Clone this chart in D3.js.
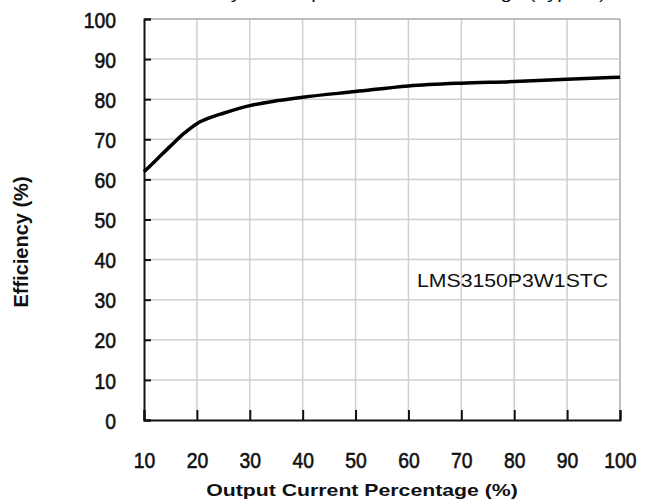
<!DOCTYPE html>
<html><head><meta charset="utf-8">
<script src="https://cdn.jsdelivr.net/npm/d3@7/dist/d3.min.js"></script>
<style>body{margin:0;background:#fff}svg{display:block}</style>
</head><body>
<svg id="c" width="650" height="504"></svg>
<script>
const xValues = [10, 12.5, 15, 17.5, 20, 22.5, 25, 30, 35, 40, 50, 60, 70, 80, 90, 100];
const efficiency = [61.9, 65.1, 68.3, 71.4, 73.9, 75.4, 76.5, 78.4, 79.6, 80.5, 81.9, 83.3, 84.0, 84.4, 85.0, 85.5];
const xTicks = [10, 20, 30, 40, 50, 60, 70, 80, 90, 100];
const yTicks = [0, 10, 20, 30, 40, 50, 60, 70, 80, 90, 100];
const seriesLabel = "LMS3150P3W1STC";
const titleText = "Efficiency vs. Output Current Percentage (Typical)";
const xTitle = "Output Current Percentage (%)";
const yTitle = "Efficiency (%)";

const svg = d3.select("#c");
const L = 144, R = 620, T = 19, B = 420;
const x = d3.scaleLinear().domain([10, 100]).range([L, R]);
const y = d3.scaleLinear().domain([0, 100]).range([B, T]);
const sans = "Liberation Sans, Arial, sans-serif";
const squeeze = 0.86;

// title (cut off at the top edge, as in the reference)
svg.append("text").attr("transform", "translate(380,-1) scale(1.2,1)").attr("text-anchor", "middle")
  .attr("font-family", sans).attr("font-size", 17).attr("fill", "#111")
  .text(titleText);

// grid
const g = svg.append("g");
g.selectAll(".vg").data(xTicks.slice(1)).join("line")
  .attr("x1", d => x(d)).attr("x2", d => x(d)).attr("y1", T).attr("y2", B)
  .attr("stroke", d => d === 100 ? "#a8a8a8" : "#cfcfcf").attr("stroke-width", 1.5);
g.selectAll(".hg").data(yTicks.slice(1)).join("line")
  .attr("x1", L).attr("x2", R).attr("y1", d => y(d)).attr("y2", d => y(d))
  .attr("stroke", d => d === 100 ? "#a8a8a8" : "#cfcfcf").attr("stroke-width", 1.5);

// axes
const yAxis = d3.axisLeft(y).tickValues(yTicks).tickSize(-7).tickPadding(28).tickFormat(d3.format("d"));
const ya = svg.append("g").attr("transform", `translate(${L},0)`).call(yAxis);
ya.select(".domain").attr("stroke", "#111").attr("stroke-width", 2);
ya.selectAll(".tick line").attr("stroke", "#111").attr("stroke-width", 2);
ya.selectAll(".tick text").attr("font-family", sans).attr("font-size", 22.5)
  .attr("fill", "#111").attr("stroke", "#111").attr("stroke-width", 0.6).attr("dy", "0.36em")
  .attr("x", -28 / squeeze).attr("transform", `scale(${squeeze},1)`);

const xAxis = d3.axisBottom(x).tickValues(xTicks).tickSize(-10).tickPadding(0).tickFormat(d3.format("d"));
const xa = svg.append("g").attr("transform", `translate(0,${B})`).call(xAxis);
xa.select(".domain").attr("stroke", "#111").attr("stroke-width", 2);
xa.selectAll(".tick line").attr("stroke", "#111").attr("stroke-width", 2);
xa.selectAll(".tick text").attr("font-family", sans).attr("font-size", 22.5)
  .attr("fill", "#111").attr("stroke", "#111").attr("stroke-width", 0.6)
  .attr("y", 48).attr("dy", 0).attr("transform", `scale(${squeeze},1)`);

// curve
const line = d3.line().x((d, i) => x(xValues[i])).y(d => y(d)).curve(d3.curveMonotoneX);
svg.append("path").datum(efficiency).attr("d", line).attr("fill", "none")
  .attr("stroke", "#000").attr("stroke-width", 3.5).attr("stroke-linejoin", "round");

// label
svg.append("text").attr("transform", "translate(417,287) scale(1.18,1)")
  .attr("font-family", sans).attr("font-size", 18)
  .attr("fill", "#111").text(seriesLabel);

// axis titles
svg.append("text").attr("transform", "translate(362,496) scale(1.25,1)").attr("text-anchor", "middle")
  .attr("font-family", sans).attr("font-size", 17)
  .attr("font-weight", "bold").attr("fill", "#111").text(xTitle);
svg.append("text").attr("transform", "translate(28,242) rotate(-90)").attr("text-anchor", "middle")
  .attr("font-family", sans).attr("font-size", 20)
  .attr("font-weight", "bold").attr("fill", "#111").text(yTitle);
</script>
</body></html>
